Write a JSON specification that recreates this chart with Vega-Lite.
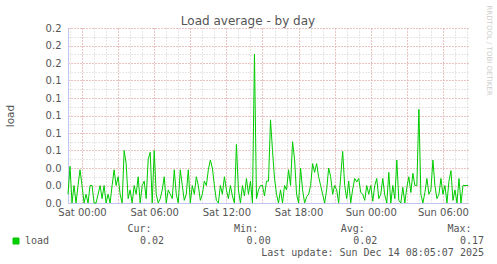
{
  "$schema": "https://vega.github.io/schema/vega-lite/v6.json",
  "background": "white",
  "padding": {"left": 5, "top": 5, "right": 5, "bottom": 0},
  "spacing": 6,
  "config": {"view": {"stroke": null}},
  "vconcat": [
    {
      "width": 400,
      "height": 175,
      "title": {"text": "Load average - by day", "anchor": "middle", "frame": "group", "font": "DejaVu Sans", "fontSize": 12, "fontWeight": "normal", "color": "#555555", "dx": -20, "baseline": "bottom", "offset": -35},
      "data": {"values": [
        {"t": "2025-12-12T22:50", "v": 0.01}, {"t": "2025-12-12T23:00", "v": 0.042}, {"t": "2025-12-12T23:10", "v": 0}, {"t": "2025-12-12T23:20", "v": 0.02}, {"t": "2025-12-12T23:30", "v": 0}, {"t": "2025-12-12T23:40", "v": 0.02}, {"t": "2025-12-12T23:50", "v": 0.038},
        {"t": "2025-12-13T00:00", "v": 0.02}, {"t": "2025-12-13T00:10", "v": 0}, {"t": "2025-12-13T00:20", "v": 0.01}, {"t": "2025-12-13T00:30", "v": 0}, {"t": "2025-12-13T00:40", "v": 0.02}, {"t": "2025-12-13T00:50", "v": 0.02},
        {"t": "2025-12-13T01:00", "v": 0}, {"t": "2025-12-13T01:10", "v": 0}, {"t": "2025-12-13T01:20", "v": 0.01}, {"t": "2025-12-13T01:30", "v": 0.02}, {"t": "2025-12-13T01:40", "v": 0.005}, {"t": "2025-12-13T01:50", "v": 0.02},
        {"t": "2025-12-13T02:00", "v": 0}, {"t": "2025-12-13T02:10", "v": 0.01}, {"t": "2025-12-13T02:20", "v": 0}, {"t": "2025-12-13T02:30", "v": 0.02}, {"t": "2025-12-13T02:40", "v": 0.038}, {"t": "2025-12-13T02:50", "v": 0.02},
        {"t": "2025-12-13T03:00", "v": 0.03}, {"t": "2025-12-13T03:10", "v": 0.01}, {"t": "2025-12-13T03:20", "v": 0}, {"t": "2025-12-13T03:30", "v": 0.06}, {"t": "2025-12-13T03:40", "v": 0.045}, {"t": "2025-12-13T03:50", "v": 0.005},
        {"t": "2025-12-13T04:00", "v": 0.015}, {"t": "2025-12-13T04:10", "v": 0}, {"t": "2025-12-13T04:20", "v": 0.02}, {"t": "2025-12-13T04:30", "v": 0.01}, {"t": "2025-12-13T04:40", "v": 0.03}, {"t": "2025-12-13T04:50", "v": 0},
        {"t": "2025-12-13T05:00", "v": 0.02}, {"t": "2025-12-13T05:10", "v": 0.025}, {"t": "2025-12-13T05:20", "v": 0.005}, {"t": "2025-12-13T05:30", "v": 0.05}, {"t": "2025-12-13T05:40", "v": 0.058}, {"t": "2025-12-13T05:50", "v": 0},
        {"t": "2025-12-13T06:00", "v": 0.06}, {"t": "2025-12-13T06:10", "v": 0.01}, {"t": "2025-12-13T06:20", "v": 0}, {"t": "2025-12-13T06:30", "v": 0.005}, {"t": "2025-12-13T06:40", "v": 0.015}, {"t": "2025-12-13T06:50", "v": 0.03},
        {"t": "2025-12-13T07:00", "v": 0}, {"t": "2025-12-13T07:10", "v": 0.015}, {"t": "2025-12-13T07:20", "v": 0.01}, {"t": "2025-12-13T07:30", "v": 0.005}, {"t": "2025-12-13T07:40", "v": 0.038}, {"t": "2025-12-13T07:50", "v": 0.01},
        {"t": "2025-12-13T08:00", "v": 0}, {"t": "2025-12-13T08:10", "v": 0.038}, {"t": "2025-12-13T08:20", "v": 0.02}, {"t": "2025-12-13T08:30", "v": 0.003}, {"t": "2025-12-13T08:40", "v": 0.01}, {"t": "2025-12-13T08:50", "v": 0.038},
        {"t": "2025-12-13T09:00", "v": 0}, {"t": "2025-12-13T09:10", "v": 0.02}, {"t": "2025-12-13T09:20", "v": 0.01}, {"t": "2025-12-13T09:30", "v": 0.03}, {"t": "2025-12-13T09:40", "v": 0.02}, {"t": "2025-12-13T09:50", "v": 0.003},
        {"t": "2025-12-13T10:00", "v": 0.01}, {"t": "2025-12-13T10:10", "v": 0.025}, {"t": "2025-12-13T10:20", "v": 0.02}, {"t": "2025-12-13T10:30", "v": 0.038}, {"t": "2025-12-13T10:40", "v": 0.049}, {"t": "2025-12-13T10:50", "v": 0.04},
        {"t": "2025-12-13T11:00", "v": 0.02}, {"t": "2025-12-13T11:10", "v": 0.003}, {"t": "2025-12-13T11:20", "v": 0}, {"t": "2025-12-13T11:30", "v": 0.02}, {"t": "2025-12-13T11:40", "v": 0.01}, {"t": "2025-12-13T11:50", "v": 0.03},
        {"t": "2025-12-13T12:00", "v": 0.015}, {"t": "2025-12-13T12:10", "v": 0.005}, {"t": "2025-12-13T12:20", "v": 0.02}, {"t": "2025-12-13T12:30", "v": 0.008}, {"t": "2025-12-13T12:40", "v": 0}, {"t": "2025-12-13T12:50", "v": 0.067},
        {"t": "2025-12-13T13:00", "v": 0.015}, {"t": "2025-12-13T13:10", "v": 0}, {"t": "2025-12-13T13:20", "v": 0.02}, {"t": "2025-12-13T13:30", "v": 0.008}, {"t": "2025-12-13T13:40", "v": 0.028}, {"t": "2025-12-13T13:50", "v": 0.01},
        {"t": "2025-12-13T14:00", "v": 0.025}, {"t": "2025-12-13T14:10", "v": 0}, {"t": "2025-12-13T14:20", "v": 0.17}, {"t": "2025-12-13T14:30", "v": 0.005}, {"t": "2025-12-13T14:40", "v": 0.015}, {"t": "2025-12-13T14:50", "v": 0.02},
        {"t": "2025-12-13T15:00", "v": 0.02}, {"t": "2025-12-13T15:10", "v": 0.008}, {"t": "2025-12-13T15:20", "v": 0.025}, {"t": "2025-12-13T15:30", "v": 0.025}, {"t": "2025-12-13T15:40", "v": 0.095}, {"t": "2025-12-13T15:50", "v": 0.06},
        {"t": "2025-12-13T16:00", "v": 0.028}, {"t": "2025-12-13T16:10", "v": 0.01}, {"t": "2025-12-13T16:20", "v": 0}, {"t": "2025-12-13T16:30", "v": 0.015}, {"t": "2025-12-13T16:40", "v": 0}, {"t": "2025-12-13T16:50", "v": 0.02},
        {"t": "2025-12-13T17:00", "v": 0.015}, {"t": "2025-12-13T17:10", "v": 0.038}, {"t": "2025-12-13T17:20", "v": 0.02}, {"t": "2025-12-13T17:30", "v": 0.07}, {"t": "2025-12-13T17:40", "v": 0.05}, {"t": "2025-12-13T17:50", "v": 0.01},
        {"t": "2025-12-13T18:00", "v": 0}, {"t": "2025-12-13T18:10", "v": 0.04}, {"t": "2025-12-13T18:20", "v": 0.015}, {"t": "2025-12-13T18:30", "v": 0}, {"t": "2025-12-13T18:40", "v": 0.007}, {"t": "2025-12-13T18:50", "v": 0.01},
        {"t": "2025-12-13T19:00", "v": 0.02}, {"t": "2025-12-13T19:10", "v": 0.045}, {"t": "2025-12-13T19:20", "v": 0.035}, {"t": "2025-12-13T19:30", "v": 0.045}, {"t": "2025-12-13T19:40", "v": 0.03}, {"t": "2025-12-13T19:50", "v": 0.02},
        {"t": "2025-12-13T20:00", "v": 0.01}, {"t": "2025-12-13T20:10", "v": 0}, {"t": "2025-12-13T20:20", "v": 0.015}, {"t": "2025-12-13T20:30", "v": 0.04}, {"t": "2025-12-13T20:40", "v": 0.03}, {"t": "2025-12-13T20:50", "v": 0.01},
        {"t": "2025-12-13T21:00", "v": 0.02}, {"t": "2025-12-13T21:10", "v": 0.015}, {"t": "2025-12-13T21:20", "v": 0}, {"t": "2025-12-13T21:30", "v": 0.03}, {"t": "2025-12-13T21:40", "v": 0.059}, {"t": "2025-12-13T21:50", "v": 0.02},
        {"t": "2025-12-13T22:00", "v": 0.005}, {"t": "2025-12-13T22:10", "v": 0.025}, {"t": "2025-12-13T22:20", "v": 0}, {"t": "2025-12-13T22:30", "v": 0.016}, {"t": "2025-12-13T22:40", "v": 0.028}, {"t": "2025-12-13T22:50", "v": 0.024},
        {"t": "2025-12-13T23:00", "v": 0.028}, {"t": "2025-12-13T23:10", "v": 0.012}, {"t": "2025-12-13T23:20", "v": 0.01}, {"t": "2025-12-13T23:30", "v": 0.003}, {"t": "2025-12-13T23:40", "v": 0.02}, {"t": "2025-12-13T23:50", "v": 0.01},
        {"t": "2025-12-14T00:00", "v": 0.02}, {"t": "2025-12-14T00:10", "v": 0.002}, {"t": "2025-12-14T00:20", "v": 0.02}, {"t": "2025-12-14T00:30", "v": 0.028}, {"t": "2025-12-14T00:40", "v": 0.005}, {"t": "2025-12-14T00:50", "v": 0.01},
        {"t": "2025-12-14T01:00", "v": 0.028}, {"t": "2025-12-14T01:10", "v": 0.009}, {"t": "2025-12-14T01:20", "v": 0}, {"t": "2025-12-14T01:30", "v": 0.035}, {"t": "2025-12-14T01:40", "v": 0}, {"t": "2025-12-14T01:50", "v": 0.02},
        {"t": "2025-12-14T02:00", "v": 0.005}, {"t": "2025-12-14T02:10", "v": 0.049}, {"t": "2025-12-14T02:20", "v": 0.003}, {"t": "2025-12-14T02:30", "v": 0}, {"t": "2025-12-14T02:40", "v": 0.018}, {"t": "2025-12-14T02:50", "v": 0},
        {"t": "2025-12-14T03:00", "v": 0.018}, {"t": "2025-12-14T03:10", "v": 0.03}, {"t": "2025-12-14T03:20", "v": 0.012}, {"t": "2025-12-14T03:30", "v": 0.034}, {"t": "2025-12-14T03:40", "v": 0.02}, {"t": "2025-12-14T03:50", "v": 0.02},
        {"t": "2025-12-14T04:00", "v": 0.107}, {"t": "2025-12-14T04:10", "v": 0.01}, {"t": "2025-12-14T04:20", "v": 0}, {"t": "2025-12-14T04:30", "v": 0.012}, {"t": "2025-12-14T04:40", "v": 0.028}, {"t": "2025-12-14T04:50", "v": 0.01},
        {"t": "2025-12-14T05:00", "v": 0.015}, {"t": "2025-12-14T05:10", "v": 0.049}, {"t": "2025-12-14T05:20", "v": 0.02}, {"t": "2025-12-14T05:30", "v": 0.005}, {"t": "2025-12-14T05:40", "v": 0.01}, {"t": "2025-12-14T05:50", "v": 0.028},
        {"t": "2025-12-14T06:00", "v": 0.01}, {"t": "2025-12-14T06:10", "v": 0.02}, {"t": "2025-12-14T06:20", "v": 0}, {"t": "2025-12-14T06:30", "v": 0.025}, {"t": "2025-12-14T06:40", "v": 0.037}, {"t": "2025-12-14T06:50", "v": 0.003},
        {"t": "2025-12-14T07:00", "v": 0.015}, {"t": "2025-12-14T07:10", "v": 0}, {"t": "2025-12-14T07:20", "v": 0.028}, {"t": "2025-12-14T07:30", "v": 0}, {"t": "2025-12-14T07:40", "v": 0.02}, {"t": "2025-12-14T07:50", "v": 0.02},
        {"t": "2025-12-14T08:00", "v": 0.02}, {"t": "2025-12-14T08:05", "v": 0.02}
      ]},
      "layer": [
        {
          "mark": {"type": "line", "opacity": 0},
          "encoding": {
            "x": {"field": "t", "type": "temporal",
              "axis": {"orient": "bottom", "tickCount": 33, "grid": true, "gridColor": "#cccccc", "gridDash": [1, 2], "labels": false, "ticks": false, "domain": false, "title": null}},
            "y": {"field": "v", "type": "quantitative",
              "scale": {"domain": [0, 0.2], "nice": false},
              "axis": {"orient": "right", "values": [0, 0.01, 0.02, 0.03, 0.04, 0.05, 0.06, 0.07, 0.08, 0.09, 0.1, 0.11, 0.12, 0.13, 0.14, 0.15, 0.16, 0.17, 0.18, 0.19, 0.2], "grid": true, "gridColor": "#cccccc", "gridDash": [1, 2], "labels": false, "ticks": false, "domain": false,
                "title": "RRDTOOL / TOBI OETIKER", "titleAngle": 90, "titleFont": "DejaVu Sans", "titleFontSize": 7, "titleFontWeight": "normal", "titleColor": "#cccccc", "titleAlign": "left", "titleBaseline": "middle", "titleX": 20, "titleY": -23}}
          }
        },
        {
          "mark": {"type": "line", "opacity": 0},
          "encoding": {
            "x": {"field": "t", "type": "temporal",
              "axis": {"orient": "bottom", "tickCount": 11, "grid": true, "gridColor": "#eea0a0", "gridDash": [1, 2], "labels": false, "ticks": false, "domain": false, "title": null}},
            "y": {"field": "v", "type": "quantitative",
              "scale": {"domain": [0, 0.2], "nice": false},
              "axis": {"orient": "left", "values": [0, 0.02, 0.04, 0.06, 0.08, 0.1, 0.12, 0.14, 0.16, 0.18, 0.2], "grid": true, "gridColor": "#eea0a0", "gridDash": [1, 2], "labels": false, "ticks": false, "domain": false, "title": null}}
          }
        },
        {
          "mark": {"type": "line", "strokeWidth": 1},
          "encoding": {
            "x": {"field": "t", "type": "temporal",
              "axis": {"orient": "bottom", "tickCount": 6, "format": "%a %H:%M", "grid": false, "ticks": false, "domain": true, "domainColor": "#c4c4f0", "labelFont": "DejaVu Sans", "labelFontSize": 10, "labelColor": "#555555", "labelPadding": 4, "labelAngle": 0, "title": null}},
            "y": {"field": "v", "type": "quantitative",
              "scale": {"domain": [0, 0.2], "nice": false},
              "axis": {"orient": "left", "values": [0, 0.02, 0.04, 0.06, 0.08, 0.1, 0.12, 0.14, 0.16, 0.18, 0.2], "format": ".1f", "grid": false, "ticks": false, "domain": true, "domainColor": "#c4c4f0", "labelFont": "DejaVu Sans", "labelFontSize": 10, "labelColor": "#555555", "labelPadding": 7,
                "title": "load", "titleFont": "DejaVu Sans", "titleFontSize": 10.5, "titleFontWeight": "normal", "titleColor": "#555555", "titlePadding": 30}},
            "color": {"datum": "load", "type": "nominal", "scale": {"range": ["#00cc00"]},
              "legend": {"orient": "none", "legendX": -57, "legendY": 208, "title": null, "symbolType": "square", "symbolSize": 36, "symbolStrokeWidth": 1, "symbolFillColor": "#00cc00", "symbolStrokeColor": "#00cc00", "labelFont": "DejaVu Sans Mono", "labelFontSize": 10, "labelColor": "#555555", "labelOffset": 4}}
          }
        }
      ],
      "resolve": {"axis": {"x": "independent", "y": "independent"}}
    },
    {
      "width": 416,
      "height": 12,
      "data": {"values": [
        {"stat": "Cur", "value": 0.02},
        {"stat": "Min", "value": 0.0},
        {"stat": "Avg", "value": 0.02},
        {"stat": "Max", "value": 0.17}
      ]},
      "mark": {"type": "text", "align": "right", "baseline": "middle", "font": "DejaVu Sans Mono", "fontSize": 10, "color": "#555555"},
      "encoding": {
        "x": {"field": "stat", "type": "nominal", "sort": null,
          "scale": {"type": "point", "padding": 0, "range": [96, 416]},
          "axis": {"orient": "top", "title": null, "domain": false, "ticks": false, "grid": false, "labelAngle": 0, "labelAlign": "right", "labelOffset": -13, "labelPadding": 2, "labelFont": "DejaVu Sans Mono", "labelFontSize": 10, "labelColor": "#555555", "labelExpr": "datum.label + ':'"}},
        "text": {"field": "value", "type": "quantitative", "format": ".2f"}
      },
      "title": {"text": "Last update: Sun Dec 14 08:05:07 2025", "orient": "bottom", "anchor": "end", "frame": "group", "font": "DejaVu Sans Mono", "fontSize": 10, "fontWeight": "normal", "color": "#555555", "offset": 1}
    }
  ]
}
